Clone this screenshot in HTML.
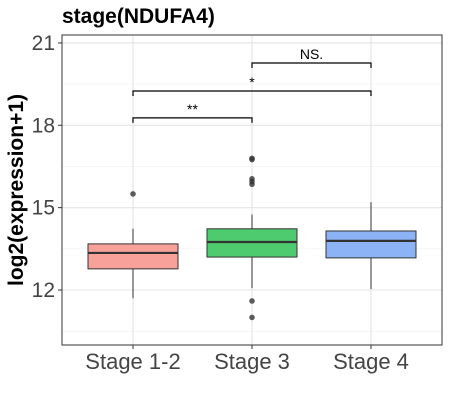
<!DOCTYPE html>
<html><head><meta charset="utf-8"><style>
body{margin:0;background:#fff;font-family:"Liberation Sans",sans-serif}
</style></head><body>
<svg width="450" height="406" xmlns="http://www.w3.org/2000/svg">
<text x="62" y="23" font-size="21" font-weight="bold" fill="#000">stage(NDUFA4)</text>
<g id="grid"></g>
<g id="marks"></g>
<rect x="62" y="35" width="380" height="310" fill="none" stroke="#333" stroke-width="1"/>
<g id="axes"></g>
<text transform="translate(23,190) rotate(-90)" text-anchor="middle" font-size="21" font-weight="bold">log2(expression+1)</text>
</svg>
<script>
const categories=["Stage 1-2","Stage 3","Stage 4"];
const q1=[12.77,13.2,13.17];
const med=[13.35,13.75,13.79];
const q3=[13.68,14.23,14.15];
const wLow=[11.7,12.07,12.03];
const wHigh=[14.23,14.75,15.2];
const outliers=[[15.5],[16.8,16.75,16.05,15.95,15.85,11.6,11.0],[]];
const colors=["#F8A09A","#4DCB6E","#8CB3F5"];
const yTicks=[12,15,18,21];
const yMinor=[10.5,13.5,16.5,19.5];
const brackets=[{a:0,b:1,y:18.27,label:"**"},{a:0,b:2,y:19.25,label:"*"},{a:1,b:2,y:20.27,label:"NS."}];
const NS="http://www.w3.org/2000/svg";
const y=v=>290-(v-12)*27.45;
const x=i=>133+i*119;
function mk(p,t,a){const e=document.createElementNS(NS,t);for(const k in a)e.setAttribute(k,a[k]);p.appendChild(e);return e;}
const g=document.getElementById('grid'),m=document.getElementById('marks'),ax=document.getElementById('axes');
mk(g,'rect',{x:62,y:35,width:380,height:310,fill:'#fff'});
yMinor.forEach(v=>{const l=mk(g,'line',{x1:62,x2:442,y1:y(v),y2:y(v),stroke:'#f0f0f0','stroke-width':0.6});});
yTicks.forEach(v=>{const l=mk(g,'line',{x1:62,x2:442,y1:y(v),y2:y(v),stroke:'#e4e4e4','stroke-width':1.1});
const t=mk(ax,'text',{x:55,y:y(v)+7,'text-anchor':'end','font-size':21,fill:'#444'});t.textContent=v;
mk(ax,'line',{x1:58,x2:62,y1:y(v),y2:y(v),stroke:'#333'});});
categories.forEach((c,i)=>{const l=mk(g,'line',{x1:x(i),x2:x(i),y1:35,y2:345,stroke:'#e4e4e4','stroke-width':1.1});
const w=45,cx=x(i);
mk(m,'line',{x1:cx,x2:cx,y1:y(wLow[i]),y2:y(q1[i]),stroke:'#333'});
mk(m,'line',{x1:cx,x2:cx,y1:y(q3[i]),y2:y(wHigh[i]),stroke:'#333'});
const r=mk(m,'rect',{x:cx-w,y:y(q3[i]),width:2*w,height:y(q1[i])-y(q3[i]),fill:colors[i],stroke:'#333','stroke-width':1});

mk(m,'line',{x1:cx-w,x2:cx+w,y1:y(med[i]),y2:y(med[i]),stroke:'#333','stroke-width':2.2});
outliers[i].forEach(o=>{const d=mk(m,'circle',{cx:cx,cy:y(o),r:2.8,fill:'#333','fill-opacity':0.8});});
mk(ax,'line',{x1:cx,x2:cx,y1:345,y2:349,stroke:'#333'});
const t=mk(ax,'text',{x:cx,y:369,'text-anchor':'middle','font-size':22,fill:'#444'});t.textContent=c;});
brackets.forEach(b=>{const yy=y(b.y),x1=x(b.a),x2=x(b.b);
const p=mk(m,'path',{d:`M${x1},${yy+5}V${yy}H${x2}V${yy+5}`,fill:'none',stroke:'#000','stroke-width':1.2});
const t=mk(m,'text',{x:(x1+x2)/2,y:yy-4,'text-anchor':'middle','font-size':14});t.textContent=b.label;});
</script>
</body></html>
